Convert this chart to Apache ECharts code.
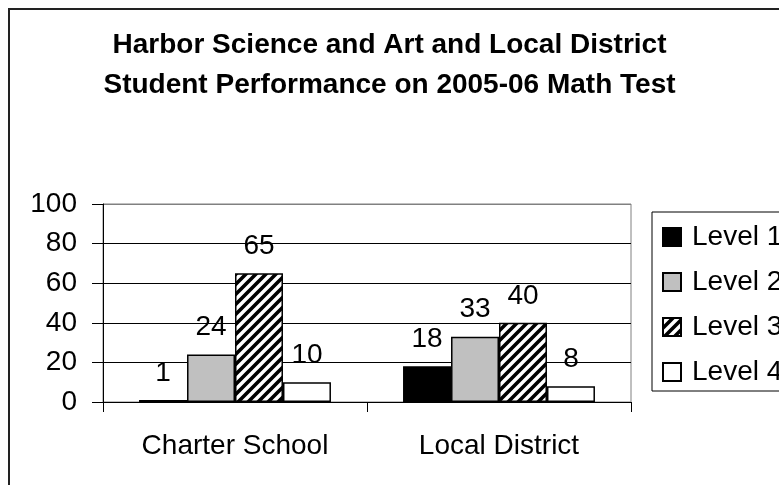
<!DOCTYPE html>
<html>
<head>
<meta charset="utf-8">
<script src="https://cdn.jsdelivr.net/npm/echarts@6/dist/echarts.min.js"></script>
<style>
html,body{margin:0;padding:0;background:#fff;}
#chart{width:779px;height:485px;}
</style>
</head>
<body>
<div id="chart"></div>
<script>
var categories = ['Charter School', 'Local District'];
var seriesNames = ['Level 1', 'Level 2', 'Level 3', 'Level 4'];
var level1 = [1, 18];
var level2 = [24, 33];
var level3 = [65, 40];
var level4 = [10, 8];
var yTicks = [0, 20, 40, 60, 80, 100];

var FONT = 'Liberation Sans, Arial, sans-serif';

function hatch() {
  var s = 10;
  var c = document.createElement('canvas');
  c.width = s; c.height = s;
  var g = c.getContext('2d');
  g.fillStyle = '#fff';
  g.fillRect(0, 0, s, s);
  g.strokeStyle = '#000';
  g.lineWidth = 3.6;
  g.beginPath();
  g.moveTo(-2, s + 2); g.lineTo(s + 2, -2);
  g.moveTo(-2, 2); g.lineTo(2, -2);
  g.moveTo(s - 2, s + 2); g.lineTo(s + 2, s - 2);
  g.stroke();
  return { image: c, repeat: 'repeat' };
}

var fills = ['#000000', '#c0c0c0', hatch(), '#ffffff'];
var values = [level1, level2, level3, level4];

var chart = echarts.init(document.getElementById('chart'), null, { renderer: 'canvas' });

var series = seriesNames.map(function (name, i) {
  return {
    name: name,
    type: 'bar',
    data: values[i],
    barGap: '0%',
    barCategoryGap: '27.3%',
    itemStyle: { color: fills[i], borderColor: '#000', borderWidth: 1.5 },
    label: {
      show: true, position: 'top', distance: 13,
      color: '#000', fontFamily: FONT, fontSize: 28
    },
    emphasis: { disabled: true },
    animation: false
  };
});

chart.setOption({
  animation: false,
  backgroundColor: '#fff',
  title: {
    text: 'Harbor Science and Art and Local District\nStudent Performance on 2005-06 Math Test',
    left: 'center',
    top: 20,
    textStyle: { fontFamily: FONT, fontSize: 28, fontWeight: 'bold', color: '#000', lineHeight: 40 }
  },
  grid: {
    left: 103, right: 148, top: 204, bottom: 83,
    show: true, borderColor: '#808080', borderWidth: 1, backgroundColor: '#fff'
  },
  legend: {
    orient: 'vertical',
    left: 652,
    top: 212,
    padding: [11, 10, 5, 10],
    itemGap: 17,
    itemWidth: 18,
    itemHeight: 18,
    borderColor: '#000',
    borderWidth: 1,
    icon: 'rect',
    data: seriesNames,
    textStyle: { fontFamily: FONT, fontSize: 28, color: '#000', padding: [0, 0, 0, 6] }
  },
  xAxis: {
    type: 'category',
    data: categories,
    axisLine: { lineStyle: { color: '#000', width: 1 } },
    axisTick: { show: true, length: 10, lineStyle: { color: '#000' } },
    axisLabel: { margin: 30, fontFamily: FONT, fontSize: 28, color: '#000' },
    splitLine: { show: false }
  },
  yAxis: {
    type: 'value',
    min: yTicks[0],
    max: yTicks[yTicks.length - 1],
    interval: yTicks[1] - yTicks[0],
    axisLine: { show: true, lineStyle: { color: '#000', width: 1 } },
    axisTick: { show: true, length: 11, lineStyle: { color: '#000' } },
    axisLabel: { margin: 26, fontFamily: FONT, fontSize: 28, color: '#000' },
    splitLine: { show: true, lineStyle: { color: ['#000', '#000', '#000', '#000', '#000', '#808080'], width: 1 } }
  },
  graphic: [{
    type: 'rect',
    shape: { x: 9, y: 9, width: 2000, height: 2000 },
    style: { fill: null, stroke: '#222', lineWidth: 2 },
    silent: true,
    z: 100
  }],
  series: series
});
</script>
</body>
</html>
